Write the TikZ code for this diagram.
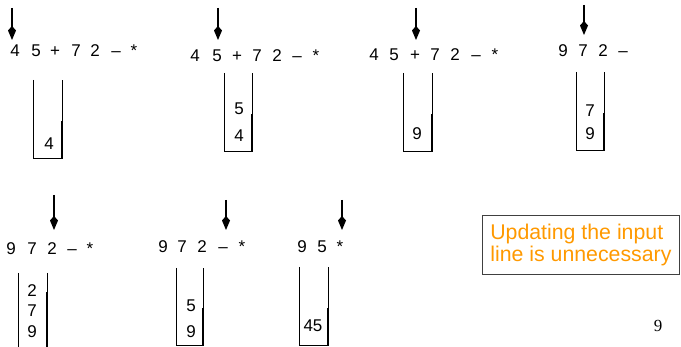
\documentclass[tikz,border=0pt]{standalone}
\usepackage{fontspec}
\setmainfont{Liberation Sans}
\newfontfamily\pgnumfont{Liberation Serif}
\usetikzlibrary{arrows.meta}
\definecolor{boxorange}{RGB}{255,153,0}
\newcommand\drawstack[4]{%
  \draw[wall] (#1,#3) -- (#1,#4) -- (#2,#4) -- (#2,#3);
  \draw[wallthick] (#2,#4-37) -- (#2,#4);
}
\begin{document}
\begin{tikzpicture}[x=1pt,y=-1pt,
  tok/.style={anchor=base,inner sep=0pt,font=\fontsize{17}{19}\selectfont},
  stk/.style={anchor=base,inner sep=0pt,font=\fontsize{17}{19}\selectfont},
  ptr/.style={line width=1.1pt,-{Kite[length=14pt,width=8pt,inset=4.5pt]}},
  wall/.style={line width=0.9pt},
  wallthick/.style={line width=1.4pt},
]
\useasboundingbox (0,0) rectangle (681,347);

% ---------- panel 1
\coordinate (p1s) at (12,8); \coordinate (p1e) at (12,40);
\draw[ptr] (p1s) -- (p1e);
\node[tok] (a1) at (15,57) {4};
\node[tok] (a2) at (36,57) {5};
\node[tok] (a3) at (55,57) {+};
\node[tok] (a4) at (76,57) {7};
\node[tok] (a5) at (95,57) {2};
\node[tok] (a6) at (116,57) {–};
\node[tok] (a7) at (134,57) {*};
\drawstack{33}{62}{80}{158}
\node[stk] (s1a) at (49,150) {4};

% ---------- panel 2
\coordinate (p2s) at (218,8); \coordinate (p2e) at (218,40);
\draw[ptr] (p2s) -- (p2e);
\node[tok] (b1) at (195,62) {4};
\node[tok] (b2) at (217,62) {5};
\node[tok] (b3) at (237,62) {+};
\node[tok] (b4) at (257,62) {7};
\node[tok] (b5) at (277,62) {2};
\node[tok] (b6) at (297,62) {–};
\node[tok] (b7) at (316,62) {*};
\drawstack{224}{252}{73}{151}
\node[stk] (s2a) at (239,115) {5};
\node[stk] (s2b) at (239,142) {4};

% ---------- panel 3
\coordinate (p3s) at (416,8); \coordinate (p3e) at (416,40);
\draw[ptr] (p3s) -- (p3e);
\node[tok] (c1) at (374,61) {4};
\node[tok] (c2) at (394,61) {5};
\node[tok] (c3) at (415,61) {+};
\node[tok] (c4) at (435,61) {7};
\node[tok] (c5) at (455,61) {2};
\node[tok] (c6) at (476,61) {–};
\node[tok] (c7) at (495,61) {*};
\drawstack{403}{432}{73}{151}
\node[stk] (s3a) at (417,140) {9};

% ---------- panel 4
\coordinate (p4s) at (584,5); \coordinate (p4e) at (584,35);
\draw[ptr] (p4s) -- (p4e);
\node[tok] (d1) at (563,57) {9};
\node[tok] (d2) at (583,57) {7};
\node[tok] (d3) at (603,57) {2};
\node[tok] (d4) at (623,57) {–};
\drawstack{576}{604}{72}{150}
\node[stk] (s4a) at (590,117) {7};
\node[stk] (s4b) at (590,140) {9};

% ---------- panel 5
\coordinate (p5s) at (54,195); \coordinate (p5e) at (54,230);
\draw[ptr] (p5s) -- (p5e);
\node[tok] (e1) at (11,255) {9};
\node[tok] (e2) at (32,255) {7};
\node[tok] (e3) at (52,255) {2};
\node[tok] (e4) at (72,255) {–};
\node[tok] (e5) at (90,255) {*};
\draw[wall] (18,273) -- (18,347);
\draw[wall] (47,273) -- (47,347);
\draw[wallthick] (47,292) -- (47,347);
\node[stk] (s5a) at (32,297) {2};
\node[stk] (s5b) at (32,317) {7};
\node[stk] (s5c) at (32,338) {9};

% ---------- panel 6
\coordinate (p6s) at (226,200); \coordinate (p6e) at (226,230);
\draw[ptr] (p6s) -- (p6e);
\node[tok] (f1) at (163,253) {9};
\node[tok] (f2) at (182,253) {7};
\node[tok] (f3) at (202,253) {2};
\node[tok] (f4) at (223,253) {–};
\node[tok] (f5) at (242,253) {*};
\drawstack{176}{203}{268}{345}
\node[stk] (s6a) at (191,312) {5};
\node[stk] (s6b) at (191,338) {9};

% ---------- panel 7
\coordinate (p7s) at (342,200); \coordinate (p7e) at (342,230);
\draw[ptr] (p7s) -- (p7e);
\node[tok] (g1) at (302,253) {9};
\node[tok] (g2) at (322,253) {5};
\node[tok] (g3) at (340,253) {*};
\drawstack{299}{328}{267}{345}
\node[stk] (s7a) at (313,332) {45};

% ---------- note box
\node[draw=black!75,line width=0.8pt,anchor=north west,minimum width=197pt,
      minimum height=59pt,inner xsep=6pt,text=boxorange,align=left,
      font=\fontsize{21.3}{22.5}\selectfont] (note) at (482,215)
      {Updating the input\\line is unnecessary};

% ---------- page number
\node[anchor=base,inner sep=0pt,font=\pgnumfont\fontsize{17}{19}\selectfont] (pg) at (658,332) {9};
\end{tikzpicture}
\end{document}
